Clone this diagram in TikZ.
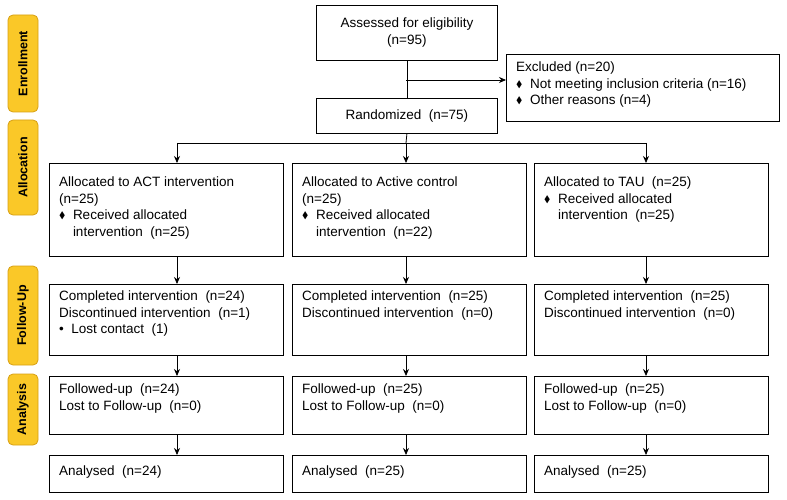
\documentclass[tikz,border=0pt]{standalone}
\usepackage{fontspec}
\usepackage{amssymb}
\setmainfont{Liberation Sans}
\usetikzlibrary{shapes.misc,arrows.meta}
\definecolor{stagegold}{RGB}{250,200,40}
\definecolor{stageedge}{RGB}{215,160,20}
\newcommand{\dia}{\raisebox{1pt}{\scalebox{0.7}{$\blacklozenge$}}}
\tikzset{
  box/.style={draw, line width=0.8pt, anchor=north west, inner sep=0pt},
  txt/.style={anchor=north west, align=left, inner sep=0pt, font=\fontsize{13.5}{16.5}\selectfont},
  stage/.style={draw=stageedge, fill=stagegold, rounded corners=5pt, line width=0.8pt,
    inner sep=0pt, anchor=north west, font=\bfseries\fontsize{12.5}{15}\selectfont},
  arr/.style={-{Stealth[length=7pt,width=6pt]}, line width=0.8pt}
}
\begin{document}
\begin{tikzpicture}[x=1pt,y=-1pt]
\useasboundingbox (0,0) rectangle (787,500);
% stage labels
\foreach \nm/\ya/\yb/\lab in {senr/15/112/Enrollment, salloc/120/215/Allocation,
  sfu/266/365/Follow-Up, sana/374/445/Analysis}{
  \path[stage] (8,\ya) rectangle (38,\yb);
  \node[rotate=90, font=\bfseries\fontsize{12.5}{15}\selectfont] (\nm) at (23,{(\ya+\yb)/2}) {\lab};
}
% top boxes
\node[box, minimum width=181pt, minimum height=55pt] (elig) at (316,5) {};
\node[align=center, font=\fontsize{13.5}{17}\selectfont] at (elig.center) {Assessed for eligibility\\(n=95)};
\node[box, minimum width=273pt, minimum height=67pt] (excl) at (506,54) {};
\node[txt] at (516,62) {Excluded (n=20)\\\dia\ \ Not meeting inclusion criteria (n=16)\\\dia\ \ Other reasons (n=4)};
\node[box, minimum width=181pt, minimum height=35pt] (rand) at (316,98) {};
\node[font=\fontsize{13.5}{16}\selectfont] at (rand.center) {Randomized\ \ (n=75)};
\coordinate (split) at (406,80);
\draw[line width=0.8pt] (elig.south) -- (rand.north);
\draw[arr] (split) -- (split -| excl.west);
% columns
\foreach \c/\xl/\ax/\nf/\na in {a/49/177/24/24, b/292/406/25/25, c/534/646/25/25}{
  \node[box, minimum width=234pt, minimum height=93pt] (al\c) at (\xl,163) {};
  \node[box, minimum width=234pt, minimum height=71pt] (fu\c) at (\xl,284) {};
  \node[box, minimum width=234pt, minimum height=58pt] (fo\c) at (\xl,376) {};
  \node[box, minimum width=234pt, minimum height=37pt] (an\c) at (\xl,455) {};
  \coordinate (top\c) at (\ax,143);
  \draw[arr] (top\c) -- (top\c |- al\c.north);
  \draw[arr] (\ax,256) -- (\ax,284);
  \draw[arr] (\ax,355) -- (\ax,376);
  \draw[arr] (\ax,434) -- (\ax,455);
  \node[txt] at (\xl+10,376+8) {Followed-up\ \ (n=\nf)\\Lost to Follow-up\ \ (n=0)};
  \node[txt] at (\xl+10,455+11) {Analysed\ \ (n=\na)};
}
\draw[line width=0.8pt] (rand.south) -- (406,143);
\draw[line width=0.8pt] (topa) -- (topc);
% allocation texts
\node[txt] at (59,177) {Allocated to ACT intervention\\(n=25)\\\dia\ \ Received allocated\\\phantom{\dia\ \ }intervention\ \ (n=25)};
\node[txt] at (302,177) {Allocated to Active control\\(n=25)\\\dia\ \ Received allocated\\\phantom{\dia\ \ }intervention\ \ (n=22)};
\node[txt] at (544,177) {Allocated to TAU\ \ (n=25)\\\dia\ \ Received allocated\\\phantom{\dia\ \ }intervention\ \ (n=25)};
% follow-up texts
\node[txt] at (59,291) {Completed intervention\ \ (n=24)\\Discontinued intervention\ \ (n=1)\\\textbullet\ \ Lost contact\ \ (1)};
\node[txt] at (302,291) {Completed intervention\ \ (n=25)\\Discontinued intervention\ \ (n=0)};
\node[txt] at (544,291) {Completed intervention\ \ (n=25)\\Discontinued intervention\ \ (n=0)};
\end{tikzpicture}
\end{document}
